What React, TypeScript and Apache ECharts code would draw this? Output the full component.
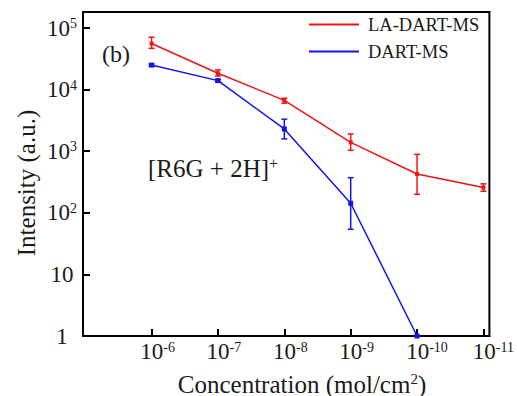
import { useEffect, useRef } from 'react';
import * as echarts from 'echarts';

// Concentration 10^-n mol/cm^2, n values
const concExponents = [6, 7, 8, 9, 10, 11];
// y tick exponents (Intensity = 10^k)
const yTickExponents = [0, 1, 2, 3, 4, 5];

// LA-DART-MS
const laDartMs = [56000, 18400, 6700, 1390, 426, 257];
const laDartMsLow = [46800, 16600, 6030, 1035, 200, 224];
const laDartMsHigh = [70800, 20900, 7240, 1905, 891, 295];

// DART-MS (no value at 10^-11)
const dartMsExponents = [6, 7, 8, 9, 10];
const dartMs = [25000, 14000, 2300, 143, 1];
const dartMsLow = [24000, 13400, 1585, 54, 1];
const dartMsHigh = [26000, 14600, 3311, 372, 1];

const RED = '#f01414';
const BLUE = '#1414e6';
const FONT = "'Liberation Serif', 'Times New Roman', serif";
const TXT = '#1a1a1a';

const lg = (v: number) => Math.log10(v);

export default function App() {
  const ref = useRef<HTMLDivElement>(null);
  useEffect(() => {
    if (!ref.current) return;
    const chart = echarts.init(ref.current, null, { renderer: 'svg' });

    const redLine = concExponents.map((n, i) => [n, lg(laDartMs[i])]);
    const blueLine = dartMsExponents.map((n, i) => [n, lg(dartMs[i])]);
    const redErr = concExponents.map((n, i) => [n, lg(laDartMsLow[i]), lg(laDartMsHigh[i])]);
    const blueErr = dartMsExponents.map((n, i) => [n, lg(dartMsLow[i]), lg(dartMsHigh[i])]);

    const errRender = (color: string) => (params: any, api: any) => {
      const x = api.value(0);
      const lo = api.coord([x, api.value(1)]);
      const hi = api.coord([x, api.value(2)]);
      const w = 3;
      const style = { stroke: color, lineWidth: 1.5 };
      return {
        type: 'group',
        children: [
          { type: 'line', shape: { x1: lo[0], y1: lo[1], x2: hi[0], y2: hi[1] }, style },
          { type: 'line', shape: { x1: lo[0] - w, y1: lo[1], x2: lo[0] + w, y2: lo[1] }, style },
          { type: 'line', shape: { x1: hi[0] - w, y1: hi[1], x2: hi[0] + w, y2: hi[1] }, style },
        ],
      };
    };

    const supRich = {
      b: { fontFamily: FONT, fontSize: 23, color: TXT },
      s: { fontFamily: FONT, fontSize: 14, color: TXT, verticalAlign: 'top' as const },
      p1: { fontFamily: FONT, fontSize: 14, width: 12 },
      p2: { fontFamily: FONT, fontSize: 14, width: 20 },
    };

    chart.setOption({
      animation: false,
      textStyle: { fontFamily: FONT },
      grid: {
        left: 83,
        right: 25,
        top: 12,
        bottom: 60,
        show: true,
        borderColor: '#000',
        borderWidth: 2,
        backgroundColor: 'transparent',
      },
      legend: {
        orient: 'vertical',
        left: 304,
        top: 10,
        itemWidth: 50,
        itemHeight: 2,
        itemGap: 8,
        icon: 'rect',
        data: ['LA-DART-MS', 'DART-MS'],
        textStyle: { fontFamily: FONT, fontSize: 18.5, color: TXT, padding: [0, 0, 0, 4] },
      },
      xAxis: {
        type: 'value',
        min: 4.967,
        max: 11.09,
        axisLine: { lineStyle: { color: '#000', width: 2 } },
        axisTick: { inside: true, length: 7, customValues: concExponents, lineStyle: { color: '#000', width: 2 } },
        splitLine: { show: false },
        axisLabel: {
          customValues: concExponents,
          margin: 4,
          fontFamily: FONT,
          fontSize: 23,
          color: TXT,
          formatter: (v: number) => `{${v >= 10 ? 'p2' : 'p1'}| }{b|10}{s|-${v}}`,
          rich: supRich,
        },
      },
      yAxis: {
        type: 'value',
        min: 0,
        max: 5.26,
        axisLine: { lineStyle: { color: '#000', width: 2 } },
        axisTick: { inside: true, length: 7, customValues: yTickExponents, lineStyle: { color: '#000', width: 2 } },
        splitLine: { show: false },
        axisLabel: {
          customValues: yTickExponents,
          margin: 21,
          align: 'center',
          fontFamily: FONT,
          fontSize: 23,
          color: TXT,
          formatter: (v: number) => (v === 0 ? '{b|1}' : v === 1 ? '{b|10}' : `{b|10}{s|${v}}`),
          rich: supRich,
        },
      },
      graphic: [
        {
          type: 'text',
          x: 102,
          y: 54,
          style: { text: '(b)', fontFamily: FONT, fontSize: 24, fill: TXT, verticalAlign: 'middle', align: 'left' },
        },
        {
          type: 'text',
          x: 148,
          y: 168,
          style: {
            text: '{a|[R6G + 2H]}{s|+}',
            fontFamily: FONT,
            verticalAlign: 'middle',
            align: 'left',
            rich: {
              a: { fontFamily: FONT, fontSize: 25, fill: TXT, color: TXT },
              s: { fontFamily: FONT, fontSize: 16, fill: TXT, color: TXT, verticalAlign: 'top' },
            },
          },
        },
        {
          type: 'text',
          x: 26,
          y: 183,
          rotation: Math.PI / 2,
          style: {
            text: 'Intensity (a.u.)',
            fontFamily: FONT,
            fontSize: 25,
            fill: TXT,
            align: 'center',
            verticalAlign: 'middle',
          },
        },
        {
          type: 'text',
          x: 302,
          y: 384,
          style: {
            text: '{a|Concentration (mol/cm}{s|2}{a|)}',
            fontFamily: FONT,
            align: 'center',
            verticalAlign: 'middle',
            rich: {
              a: { fontFamily: FONT, fontSize: 25, fill: TXT, color: TXT },
              s: { fontFamily: FONT, fontSize: 15, fill: TXT, color: TXT, verticalAlign: 'top' },
            },
          },
        },
      ],
      series: [
        {
          name: 'LA-DART-MS',
          type: 'line',
          data: redLine,
          color: RED,
          symbol: 'rect',
          symbolSize: 4,
          lineStyle: { color: RED, width: 1.5 },
          itemStyle: { color: RED },
          z: 3,
        },
        {
          name: 'DART-MS',
          type: 'line',
          data: blueLine,
          color: BLUE,
          symbol: 'rect',
          symbolSize: 5,
          lineStyle: { color: BLUE, width: 1.5 },
          itemStyle: { color: BLUE },
          z: 3,
        },
        {
          name: 'LA-DART-MS err',
          type: 'custom',
          data: redErr,
          encode: { x: 0, y: [1, 2] },
          renderItem: errRender(RED),
          z: 4,
        },
        {
          name: 'DART-MS err',
          type: 'custom',
          data: blueErr,
          encode: { x: 0, y: [1, 2] },
          renderItem: errRender(BLUE),
          z: 4,
        },
      ],
    });
    return () => chart.dispose();
  }, []);
  return <div ref={ref} style={{ width: 517, height: 396, position: 'absolute', left: 0, top: 0 }} />;
}
